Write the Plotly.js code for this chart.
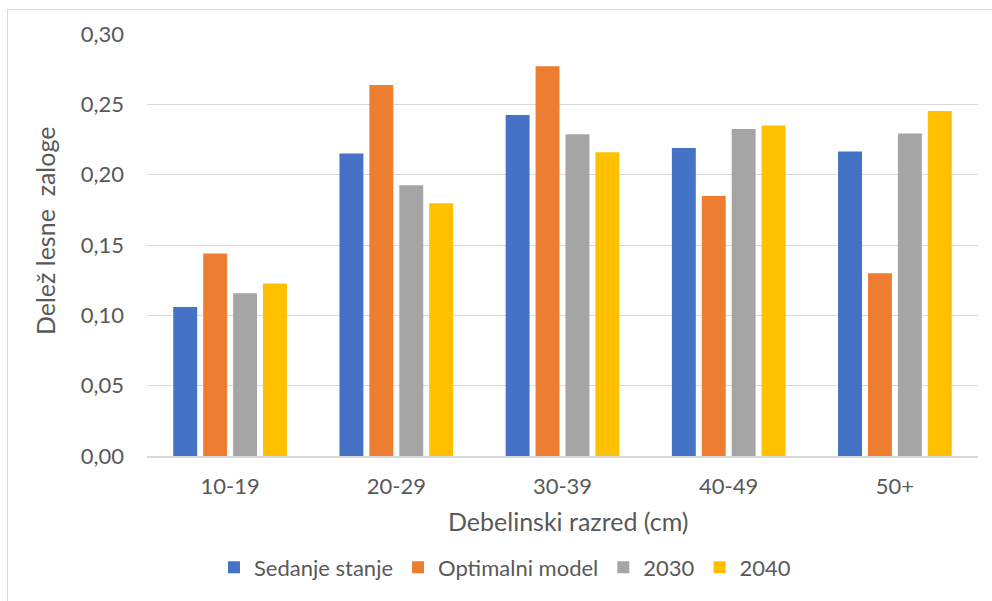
<!DOCTYPE html>
<html>
<head>
<meta charset="utf-8">
<script src="https://cdn.plot.ly/plotly-3.0.1.min.js"></script>
<style>
  html, body { margin: 0; padding: 0; background: #ffffff; }
  #wrap { position: relative; width: 992px; height: 601px; }
  #chart { width: 992px; height: 601px; }
  #frame { position: absolute; left: 7px; top: 9px; right: -2px; bottom: -2px;
           border-left: 1px solid #d9d9d9; border-top: 1px solid #d9d9d9; pointer-events: none; }
</style>
</head>
<body>
<div id="wrap">
  <div id="chart"></div>
  <div id="frame"></div>
</div>
<script>
// Diameter classes and share of growing stock per scenario
const categories = ['10-19', '20-29', '30-39', '40-49', '50+'];
const seriesNames = ['Sedanje stanje', 'Optimalni model', '2030', '2040'];
const sedanjeStanje = [0.106, 0.215, 0.2425, 0.219, 0.2165];
const optimalniModel = [0.144, 0.2637, 0.277, 0.1848, 0.130];
const leto2030 = [0.1157, 0.1925, 0.2287, 0.2325, 0.2292];
const leto2040 = [0.1226, 0.1797, 0.2160, 0.2350, 0.2452];
const yTickVals = [0, 0.05, 0.10, 0.15, 0.20, 0.25, 0.30];
const yTickText = ['0,00', '0,05', '0,10', '0,15', '0,20', '0,25', '0,30'];
const colors = ['#4472C4', '#ED7D31', '#A5A5A5', '#FFC000'];

const FONT = 'Lato, "Open Sans", sans-serif';
const GREY_TEXT = '#595959';

const allValues = [sedanjeStanje, optimalniModel, leto2030, leto2040];
const traces = allValues.map((vals, i) => ({
  type: 'bar',
  name: seriesNames[i],
  x: categories,
  y: vals,
  marker: { color: colors[i], line: { width: 0 } },
  hoverinfo: 'x+y+name'
}));

const layout = {
  width: 992,
  height: 601,
  margin: { l: 147, r: 14, t: 34, b: 143 },
  paper_bgcolor: '#ffffff',
  plot_bgcolor: '#ffffff',
  font: { family: FONT, color: GREY_TEXT, size: 22 },
  barmode: 'group',
  bargap: 0.28,
  bargroupgap: 0.2,
  showlegend: true,
  legend: {
    orientation: 'h',
    x: 0.0806, xanchor: 'left',
    y: -0.264, yanchor: 'middle',
    font: { family: FONT, size: 22, color: GREY_TEXT },
    traceorder: 'normal'
  },
  xaxis: {
    type: 'category',
    showline: true,
    linecolor: '#d9d9d9',
    linewidth: 1.5,
    showgrid: false,
    ticks: '',
    ticklabelstandoff: 10,
    tickfont: { family: FONT, size: 22, color: GREY_TEXT }
  },
  yaxis: {
    range: [0, 0.30],
    tickvals: yTickVals,
    ticktext: yTickText,
    showgrid: true,
    gridcolor: '#d9d9d9',
    gridwidth: 1,
    zeroline: false,
    showline: false,
    ticks: '',
    ticklabelstandoff: 22,
    tickfont: { family: FONT, size: 22, color: GREY_TEXT }
  },
  annotations: [
    {
      text: 'Debelinski razred (cm)',
      xref: 'paper', yref: 'paper',
      x: (568 - 147) / 831, y: (458 - 523) / 424,
      xanchor: 'center', yanchor: 'middle',
      showarrow: false,
      font: { family: FONT, size: 25, color: GREY_TEXT }
    },
    {
      text: 'Delež lesne\u00a0 zaloge',
      xref: 'paper', yref: 'paper',
      x: (45 - 147) / 831, y: (458 - 232) / 424,
      xanchor: 'center', yanchor: 'middle',
      textangle: -90,
      showarrow: false,
      font: { family: FONT, size: 25, color: GREY_TEXT }
    }
  ]
};

Plotly.newPlot('chart', traces, layout, { displayModeBar: false, staticPlot: true });
</script>
</body>
</html>
